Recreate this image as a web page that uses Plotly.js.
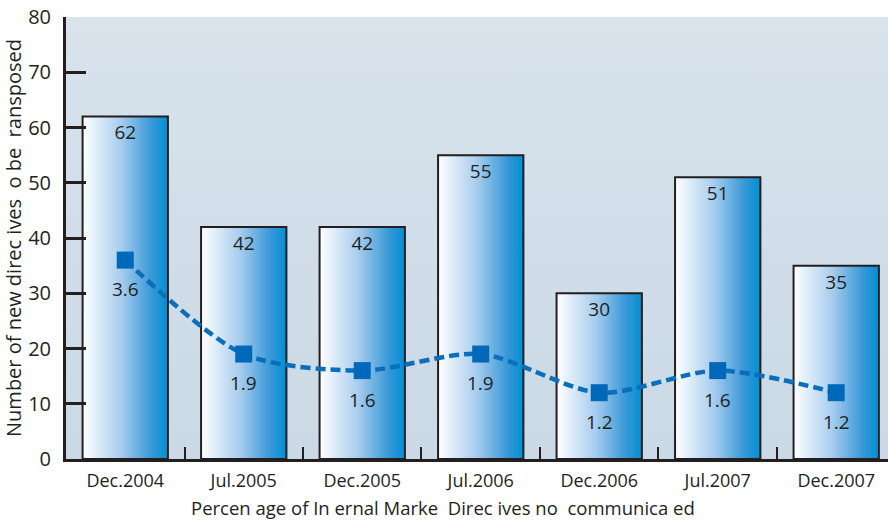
<!DOCTYPE html>
<html><head><meta charset="utf-8">
<script src="https://cdn.plot.ly/plotly-3.0.1.min.js"></script>
<style>html,body{margin:0;padding:0;background:#fff}</style>
</head><body>
<div id="chart" style="width:888px;height:521px"></div>
<script>
const categories = ['Dec.2004','Jul.2005','Dec.2005','Jul.2006','Dec.2006','Jul.2007','Dec.2007'];
const directives = [62, 42, 42, 55, 30, 51, 35];
const deficitPct = [3.6, 1.9, 1.6, 1.9, 1.2, 1.6, 1.2];
const deficitLabels = ['3.6', '1.9', '1.6', '1.9', '1.2', '1.6', '1.2'];
const yTickVals = [0, 10, 20, 30, 40, 50, 60, 70, 80];
const yTitle = 'Number of new direc ives\u00a0 o be\u00a0 ransposed';
const xTitle = 'Percen age of In ernal Marke\u00a0 Direc ives no\u00a0 communica ed';

const FONT = '"Open Sans", "Noto Sans", sans-serif';
const TXT = '#231f20';
const lineY = deficitPct.map(v => v * 10);

const bars = {
  type: 'bar', x: categories, y: directives,
  width: 0.72,
  marker: {color: '#5aa8e0', line: {color: TXT, width: 2}},
  text: directives.map(String), textposition: 'inside', insidetextanchor: 'end',
  textfont: {family: FONT, size: 19, color: TXT},
  constraintext: 'none', cliponaxis: false, hoverinfo: 'none'
};
const line = {
  type: 'scatter', mode: 'lines+markers', x: categories, y: lineY,
  line: {color: '#0a6ebd', width: 4.5, dash: '10px,5px', shape: 'spline', smoothing: 0.8},
  marker: {symbol: 'square', size: 17, color: '#0068b8'},
  hoverinfo: 'none'
};
const annotations = categories.map((c, i) => ({
  x: c, y: lineY[i], xref: 'x', yref: 'y', text: deficitLabels[i], showarrow: false,
  yshift: -29, font: {family: FONT, size: 19, color: TXT}
}));
annotations.push({
  x: 0.48, y: 87, xref: 'paper', yref: 'y', text: 'Scoreboard', showarrow: false,
  font: {family: FONT, size: 100, color: 'rgba(180,198,214,0.35)'}, yanchor: 'middle'
});
annotations.push({
  x: 0.459, y: -0.1105, xref: 'paper', yref: 'paper', text: xTitle, showarrow: false,
  yanchor: 'middle', borderpad: 0, font: {family: FONT, size: 18.5, color: TXT}
});

const layout = {
  width: 888, height: 521,
  margin: {l: 66, r: 0, t: 17, b: 62, pad: 0},
  paper_bgcolor: '#ffffff', plot_bgcolor: '#d3e0ea',
  showlegend: false,
  font: {family: FONT, color: TXT},
  xaxis: {
    type: 'category', range: [-0.5, 6.437], showgrid: false,
    showline: true, linecolor: TXT, linewidth: 3,
    ticks: 'inside', tickson: 'boundaries', ticklen: 12, tickwidth: 2, tickcolor: TXT,
    ticklabelstandoff: 3,
    tickfont: {family: FONT, size: 18, color: TXT}, zeroline: false
  },
  yaxis: {
    range: [0, 80], tickvals: yTickVals, showgrid: false, zeroline: false,
    showline: true, linecolor: TXT, linewidth: 3,
    ticks: 'inside', ticklen: 20, tickwidth: 3, tickcolor: TXT,
    ticklabelstandoff: 8,
    tickfont: {family: FONT, size: 20, color: TXT},
    title: {text: yTitle, font: {family: FONT, size: 20, color: TXT}, standoff: 2}
  },
  annotations: annotations
};

Plotly.newPlot('chart', [bars, line], layout, {staticPlot: true}).then(gd => {
  const ns = 'http://www.w3.org/2000/svg';
  const svg = gd.querySelector('svg.main-svg');
  let defs = svg.querySelector('defs');
  if (!defs) { defs = document.createElementNS(ns, 'defs'); svg.insertBefore(defs, svg.firstChild); }
  const mk = (id, x2, y2, stops) => {
    const g = document.createElementNS(ns, 'linearGradient');
    g.setAttribute('id', id); g.setAttribute('x1', '0'); g.setAttribute('y1', '0');
    g.setAttribute('x2', x2); g.setAttribute('y2', y2);
    stops.forEach(s => {
      const st = document.createElementNS(ns, 'stop');
      st.setAttribute('offset', s[0]); st.setAttribute('stop-color', s[1]);
      g.appendChild(st);
    });
    defs.appendChild(g);
  };
  mk('barGrad', '1', '0', [['0', '#ffffff'], ['0.45', '#a8cdee'], ['0.82', '#3597d6'], ['1', '#0090d4']]);
  mk('bgGrad', '0', '1', [['0', '#d8e3ec'], ['1', '#cad9e5']]);
  gd.querySelectorAll('.barlayer .point path').forEach(p => { p.style.fill = 'url(#barGrad)'; });
  const bg = gd.querySelector('.bglayer rect.bg');
  if (bg) bg.style.fill = 'url(#bgGrad)';
});
</script>
</body></html>
